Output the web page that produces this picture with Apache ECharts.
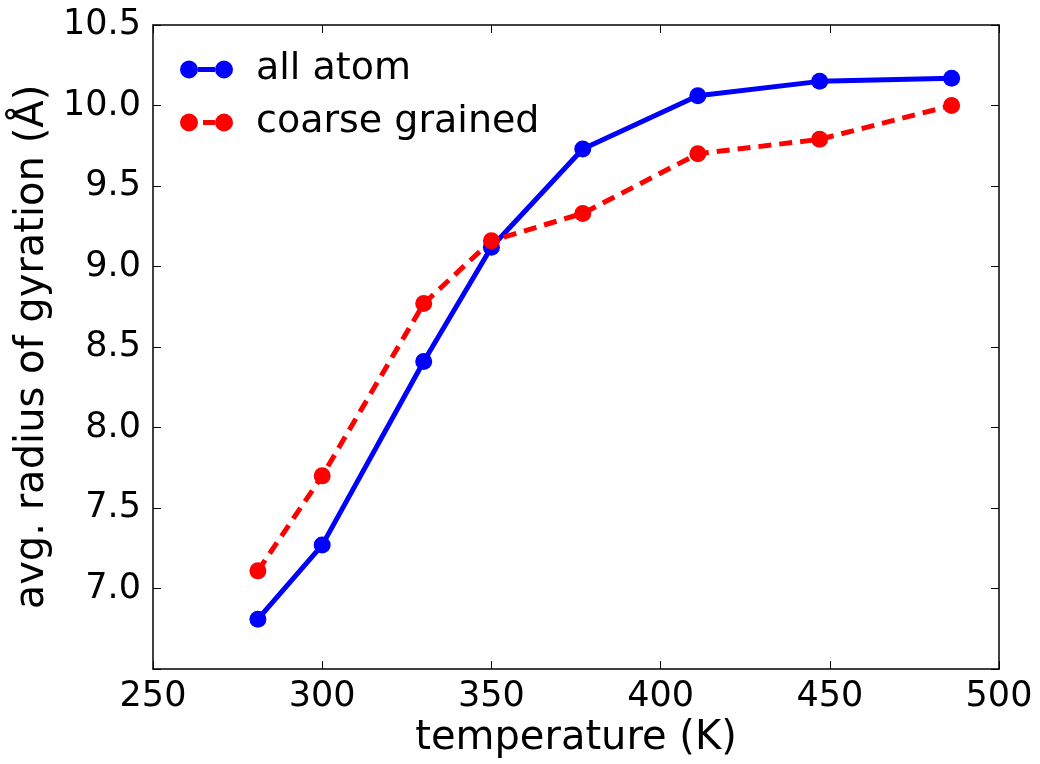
<!DOCTYPE html>
<html>
<head>
<meta charset="utf-8">
<script src="https://cdn.jsdelivr.net/npm/echarts@6/dist/echarts.min.js"></script>
<style>
html, body { margin: 0; padding: 0; background: #fff; }
#chart { width: 1040px; height: 764px; }
</style>
</head>
<body>
<div id="chart"></div>
<script>
// data
const temperatures = [281, 300, 330, 350, 377, 411, 447, 486]
const allAtom = [6.81, 7.27, 8.41, 9.12, 9.73, 10.06, 10.15, 10.17]
const coarseGrained = [7.11, 7.70, 8.77, 9.16, 9.33, 9.70, 9.79, 10.00]
const seriesNames = ['all atom', 'coarse grained']

const font = 'DejaVu Sans'
const pair = (xs, ys) => xs.map((x, i) => [x, ys[i]])

// legend handles: marker - line - marker, like matplotlib
const iconSolid = 'path://M0,9a9,9 0 1,0 18,0a9,9 0 1,0 -18,0Z M35,9a9,9 0 1,0 18,0a9,9 0 1,0 -18,0Z M18,6.5L35,6.5L35,11.5L18,11.5Z'
const iconDashed = 'path://M0,9a9,9 0 1,0 18,0a9,9 0 1,0 -18,0Z M35,9a9,9 0 1,0 18,0a9,9 0 1,0 -18,0Z M23,6.5L35,6.5L35,11.5L23,11.5Z'

const chart = echarts.init(document.getElementById('chart'))

const frameAxis = {
    axisLine: { show: true, lineStyle: { color: '#000', width: 1.5 } },
    axisTick: { show: true, inside: true, length: 8, lineStyle: { color: '#000', width: 1 } },
    splitLine: { show: false }
}

chart.setOption({
    animation: false,
    backgroundColor: '#fff',
    grid: { left: 153, right: 41, top: 25, bottom: 88, containLabel: false },
    legend: {
        orient: 'vertical',
        left: 180,
        top: 48,
        padding: 0,
        itemWidth: 53,
        itemHeight: 18,
        itemGap: 10,
        textStyle: { fontFamily: font, fontSize: 38, color: '#000', lineHeight: 43, padding: [0, 0, 0, 18] },
        data: [
            { name: seriesNames[0], icon: iconSolid },
            { name: seriesNames[1], icon: iconDashed }
        ]
    },
    xAxis: [{
        type: 'value',
        min: 250,
        max: 500,
        interval: 50,
        name: 'temperature (K)',
        nameLocation: 'middle',
        nameGap: 42,
        nameTextStyle: { fontFamily: font, fontSize: 40, color: '#000' },
        axisLabel: { fontFamily: font, fontSize: 35, color: '#000', margin: 10 },
        ...frameAxis
    }, {
        type: 'value',
        position: 'top',
        min: 250,
        max: 500,
        interval: 50,
        axisLabel: { show: false },
        ...frameAxis
    }],
    yAxis: [{
        type: 'value',
        min: 6.5,
        max: 10.5,
        interval: 0.5,
        name: 'avg. radius of gyration (Å)',
        nameLocation: 'middle',
        nameGap: 84,
        nameTextStyle: { fontFamily: font, fontSize: 40, color: '#000' },
        axisLabel: {
            fontFamily: font,
            fontSize: 35,
            color: '#000',
            margin: 12,
            formatter: v => (v === 6.5 ? '' : v.toFixed(1))
        },
        ...frameAxis
    }, {
        type: 'value',
        position: 'right',
        min: 6.5,
        max: 10.5,
        interval: 0.5,
        axisLabel: { show: false },
        ...frameAxis
    }],
    series: [{
        name: seriesNames[0],
        type: 'line',
        data: pair(temperatures, allAtom),
        symbol: 'circle',
        symbolSize: 17,
        itemStyle: { color: '#0000ff' },
        lineStyle: { color: '#0000ff', width: 5 },
        z: 2
    }, {
        name: seriesNames[1],
        type: 'line',
        data: pair(temperatures, coarseGrained),
        symbol: 'circle',
        symbolSize: 17,
        itemStyle: { color: '#ff0000' },
        lineStyle: { color: '#ff0000', width: 5, type: [13, 8] },
        z: 3
    }]
})
</script>
</body>
</html>
